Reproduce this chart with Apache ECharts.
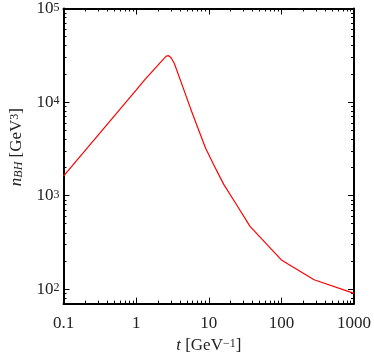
<!DOCTYPE html>
<html>
<head>
<meta charset="utf-8">
<script src="https://cdn.jsdelivr.net/npm/echarts@6/dist/echarts.min.js"></script>
<style>
html, body { margin: 0; padding: 0; background: #fff; }
#main { width: 374px; height: 359px; }
</style>
</head>
<body>
<div id="main"></div>
<script>
// curve
var tValues = [0.1, 1, 1.31, 2.21, 2.45, 2.6, 2.67, 2.8, 2.95, 3.03, 3.36, 4.37, 5.66, 7.0, 9.06, 11.7, 16, 24.4, 37, 100, 282, 1000];
var nValues = [1610, 13400, 17260, 27100, 29500, 31000, 31500, 31300, 30300, 29800, 25800, 14700, 8390, 5400, 3200, 2140, 1325, 787, 468, 205, 126, 90];

var xMajorTicks = [0.1, 1, 10, 100, 1000];
var yMajorTicks = [100, 1000, 10000, 100000];
var xMinorTicks = [];
var yMinorTicks = [80, 90];
[0.1, 1, 10, 100].forEach(function (d) {
    for (var k = 2; k <= 9; k++) xMinorTicks.push(k * d);
});
[100, 1000, 10000].forEach(function (d) {
    for (var k = 2; k <= 9; k++) yMinorTicks.push(k * d);
});

var serif = 'Liberation Serif';
var lineData = tValues.map(function (t, i) { return [t, nValues[i]]; });

// superscript style shared by labels and names
var supStyle = { fontFamily: serif, fontSize: 12, lineHeight: 10, color: '#222', verticalAlign: 'top', padding: [0, 0, 4, 0] };

function xAxisOf(pos, ticks, len, showLine, showLabel) {
    return {
        type: 'log', min: 0.1, max: 1000, position: pos,
        axisLine: { show: showLine, lineStyle: { color: '#000', width: 2 } },
        axisTick: { show: true, inside: true, length: len, customValues: ticks, lineStyle: { color: '#000', width: 1 } },
        axisLabel: {
            show: showLabel, margin: 12,
            fontFamily: serif, fontSize: 17, lineHeight: 16, color: '#222',
            formatter: function (v) { return String(Number(v.toPrecision(3))); }
        },
        splitLine: { show: false }
    };
}
function yAxisOf(pos, ticks, len, showLine, showLabel) {
    return {
        type: 'log', min: 70, max: 100000, position: pos,
        axisLine: { show: showLine, lineStyle: { color: '#000', width: 2 } },
        axisTick: { show: true, inside: true, length: len, customValues: ticks, lineStyle: { color: '#000', width: 1 } },
        axisLabel: {
            show: showLabel, customValues: yMajorTicks, margin: 4,
            color: '#222',
            formatter: function (v) { return '{b|10}{s|' + Math.round(Math.log10(v)) + '}'; },
            rich: {
                b: { fontFamily: serif, fontSize: 17, lineHeight: 14, color: '#222' },
                s: supStyle
            }
        },
        splitLine: { show: false }
    };
}

var xBottom = xAxisOf('bottom', xMajorTicks, 6, true, true);
xBottom.name = '{i|t} [GeV{s|−1}]';
xBottom.nameLocation = 'middle';
xBottom.nameGap = 33;
xBottom.nameTextStyle = {
    fontFamily: serif, fontSize: 17, lineHeight: 16, color: '#222',
    rich: {
        i: { fontFamily: serif, fontSize: 17, lineHeight: 16, fontStyle: 'italic', color: '#222' },
        s: supStyle
    }
};

var yLeft = yAxisOf('left', yMajorTicks, 6, true, true);
yLeft.name = '{i|n}{sub|BH} [GeV{s|3}]';
yLeft.nameLocation = 'middle';
yLeft.nameGap = 39;
yLeft.nameRotate = 90;
yLeft.nameTextStyle = {
    fontFamily: serif, fontSize: 17, lineHeight: 16, color: '#222',
    padding: [0, 0, 0, 18],
    rich: {
        i: { fontFamily: serif, fontSize: 17, lineHeight: 16, fontStyle: 'italic', color: '#222' },
        sub: { fontFamily: serif, fontSize: 12, lineHeight: 16, fontStyle: 'italic', color: '#222', verticalAlign: 'bottom' },
        s: supStyle
    }
};

var chart = echarts.init(document.getElementById('main'));
var option = {
    animation: false,
    grid: { left: 61, right: 18, top: 7, bottom: 51 },
    xAxis: [
        xBottom,
        xAxisOf('bottom', xMinorTicks, 3, false, false),
        xAxisOf('top', xMajorTicks, 6, true, false),
        xAxisOf('top', xMinorTicks, 3, false, false)
    ],
    yAxis: [
        yLeft,
        yAxisOf('left', yMinorTicks, 3, false, false),
        yAxisOf('right', yMajorTicks, 6, true, false),
        yAxisOf('right', yMinorTicks, 3, false, false)
    ],
    series: [
        {
            type: 'line',
            xAxisIndex: 0,
            yAxisIndex: 0,
            data: lineData,
            showSymbol: false,
            smooth: false,
            lineStyle: { color: '#ff0000', width: 1.2 }
        }
    ]
};
chart.setOption(option);
</script>
</body>
</html>
